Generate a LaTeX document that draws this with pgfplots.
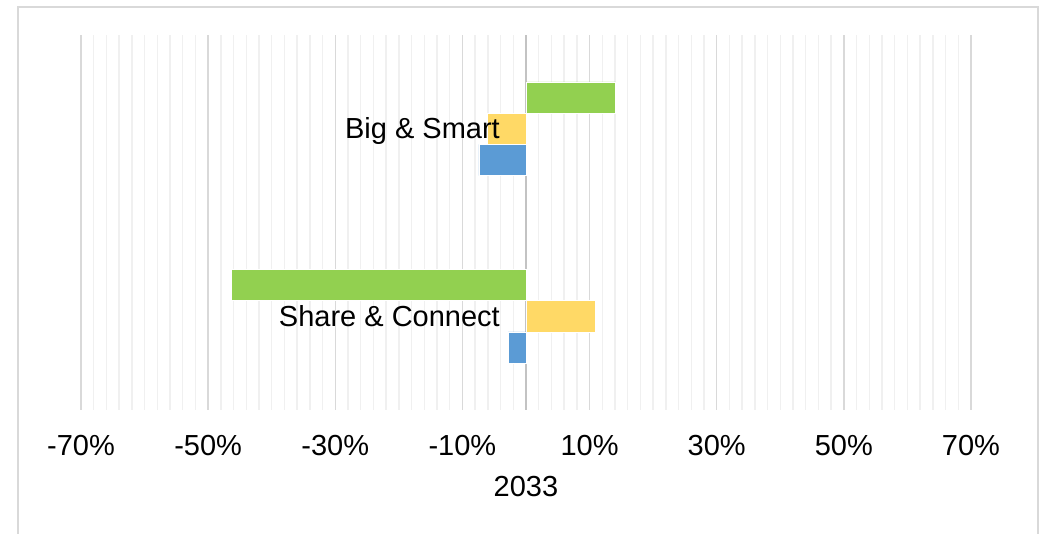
\documentclass[border=0pt]{standalone}
\usepackage{fontspec}
\setmainfont{Liberation Sans}
\usepackage{pgfplots}
\pgfplotsset{compat=1.18}
\definecolor{cgreen}{HTML}{92D050}
\definecolor{cyellow}{HTML}{FFD966}
\definecolor{cblue}{HTML}{5B9BD5}
\definecolor{majgrid}{HTML}{D9D9D9}
\definecolor{mingrid}{HTML}{F0F0F0}
\begin{document}
\begin{tikzpicture}[x=1pt,y=1pt]
\path[use as bounding box] (0,0) rectangle (1042,534);
\draw[majgrid, line width=1.5pt] (18,0) -- (18,527) -- (1038,527) -- (1038,0);
\begin{axis}[
  at={(81pt,124pt)}, anchor=south west,
  scale only axis, width=890pt, height=375pt,
  xmin=-70, xmax=70, ymin=-0.5, ymax=1.5,
  xtick={-70,-50,-30,-10,10,30,50,70},
  xticklabels={-70\%,-50\%,-30\%,-10\%,10\%,30\%,50\%,70\%},
  minor x tick num=9,
  xmajorgrids, xminorgrids,
  major grid style={majgrid, line width=1.5pt},
  minor grid style={mingrid, line width=1.5pt},
  extra x ticks={0}, extra x tick labels={},
  extra x tick style={grid=major, major grid style={majgrid!90!black, line width=1.5pt}},
  ytick=\empty,
  axis line style={draw=none},
  major tick length=0pt, minor tick length=0pt,
  xticklabel style={font=\fontsize{29}{34}\selectfont, anchor=base, yshift=-46pt},
  xlabel={2033},
  xlabel style={font=\fontsize{29}{34}\selectfont, at={(axis description cs:0.5,0)}, anchor=base, yshift=-87pt},
  xbar, bar width=0.1667,
  clip=false,
]
\addplot[fill=cgreen, draw=white, line width=0.5pt, bar shift=0.1667] coordinates {(-46.3,0) (14.1,1)};
\addplot[fill=cyellow, draw=white, line width=0.5pt, bar shift=0] coordinates {(10.9,0) (-6.1,1)};
\addplot[fill=cblue, draw=white, line width=0.5pt, bar shift=-0.1667] coordinates {(-2.8,0) (-7.4,1)};
\node[anchor=base east, inner sep=0pt, xshift=-26pt, yshift=-10pt, font=\fontsize{29}{34}\selectfont] at (axis cs:0,1) {Big \& Smart};
\node[anchor=base east, inner sep=0pt, xshift=-26pt, yshift=-10pt, font=\fontsize{29}{34}\selectfont] at (axis cs:0,0) {Share \& Connect};
\end{axis}
\end{tikzpicture}
\end{document}
